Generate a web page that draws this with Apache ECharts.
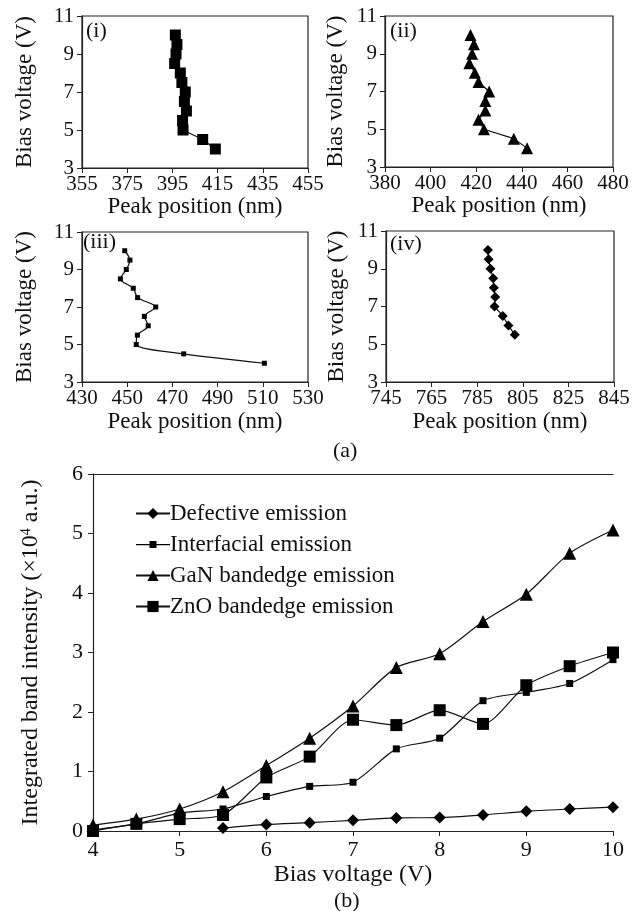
<!DOCTYPE html>
<html>
<head>
<meta charset="utf-8">
<script src="https://cdn.jsdelivr.net/npm/echarts@6/dist/echarts.min.js"></script>
<style>
  html, body { margin: 0; padding: 0; background: #fff; }
  #main { width: 642px; height: 911px; }
</style>
</head>
<body>
<div id="main"></div>
<script type="text/javascript">
// (a) peak position vs bias voltage
var bias = [10, 9.5, 9, 8.5, 8, 7.5, 7, 6.5, 6, 5.5, 5, 4.5, 4];
var peakI = [396.3, 397, 396.6, 396, 398.5, 399.2, 400.7, 400.3, 401.2, 399.5, 399.7, 408.4, 414];
var peakII = [417.5, 419, 418.2, 417, 419.4, 421, 425.7, 424, 424, 421, 423.4, 436.5, 442.3];
var peakIII = [448.9, 451.2, 449.6, 447, 452.7, 454.6, 462.6, 457.6, 459.3, 454.5, 454, 475, 510.7];
var peakIV = [789.7, 790, 790.8, 792, 792.3, 792.9, 792.6, 796.2, 798.7, 801.5, null, null, null];

// (b) integrated band intensity (x10^4 a.u.) vs bias voltage
var voltage = [4, 4.5, 5, 5.5, 6, 6.5, 7, 7.5, 8, 8.5, 9, 9.5, 10];
var defective = [null, null, null, 0.05, 0.11, 0.14, 0.18, 0.22, 0.225, 0.27, 0.33, 0.37, 0.40];
var interfacial = [0.02, 0.12, 0.3, 0.37, 0.58, 0.75, 0.82, 1.38, 1.56, 2.19, 2.33, 2.48, 2.88];
var gan = [0.1, 0.2, 0.37, 0.66, 1.1, 1.56, 2.1, 2.75, 2.98, 3.52, 3.98, 4.67, 5.06];
var zno = [0.0, 0.12, 0.2, 0.27, 0.9, 1.25, 1.87, 1.78, 2.03, 1.8, 2.45, 2.77, 3.0];

var FONT = 'Liberation Serif, Times New Roman, serif';

function pairs(xs, ys) {
    var out = [];
    for (var i = 0; i < xs.length; i++) {
        if (xs[i] != null && ys[i] != null) out.push([xs[i], ys[i]]);
    }
    return out;
}

function xAx(idx, min, max, gap) {
    return {
        type: 'value', gridIndex: idx, min: min, max: max, interval: 20,
        name: 'Peak position (nm)', nameLocation: 'middle', nameGap: gap,
        nameTextStyle: { fontFamily: FONT, fontSize: 23, color: '#111' },
        axisLine: { lineStyle: { color: '#222', width: 1.2 } },
        axisTick: { show: true, length: 5, lineStyle: { color: '#222' } },
        axisLabel: { fontFamily: FONT, fontSize: 21, color: '#111', margin: 6, showMaxLabel: true, showMinLabel: true },
        splitLine: { show: false }
    };
}
function yAx(idx, gap) {
    return {
        type: 'value', gridIndex: idx, min: 3, max: 11, interval: 2,
        name: 'Bias voltage (V)', nameLocation: 'middle', nameGap: gap,
        nameTextStyle: { fontFamily: FONT, fontSize: 23, color: '#111' },
        axisLine: { show: true, lineStyle: { color: '#222', width: 1.2 } },
        axisTick: { show: true, length: 5, lineStyle: { color: '#222' } },
        axisLabel: { fontFamily: FONT, fontSize: 21, color: '#111', margin: 8 },
        splitLine: { show: false }
    };
}
function panelSeries(idx, xs, symbol, size, smooth) {
    return {
        type: 'line', xAxisIndex: idx, yAxisIndex: idx,
        data: pairs(xs, bias), symbol: symbol, symbolSize: size, smooth: smooth,
        itemStyle: { color: '#000' }, lineStyle: { color: '#111', width: 1.2 },
        animation: false
    };
}

var boxStyle = { show: true, borderColor: '#222', borderWidth: 1.2, backgroundColor: 'transparent' };

// legend icon for the small-square series: line with a small square in the middle
var smallSquareIcon = 'path://M0,3L34,3L34,4.2L0,4.2Z M13.5,0L20.5,0L20.5,7L13.5,7Z';

var myChart = echarts.init(document.getElementById('main'), null, { renderer: 'canvas' });
myChart.setOption({
    backgroundColor: '#fff',
    animation: false,
    grid: [
        Object.assign({ left: 82, top: 16, width: 226, height: 152 }, boxStyle),
        Object.assign({ left: 385, top: 16, width: 228, height: 151 }, boxStyle),
        Object.assign({ left: 82, top: 232, width: 226, height: 150 }, boxStyle),
        Object.assign({ left: 386, top: 231, width: 228, height: 151 }, boxStyle),
        { left: 93, top: 474, width: 520, height: 357 }
    ],
    xAxis: [
        xAx(0, 355, 455, 26),
        xAx(1, 380, 480, 26),
        xAx(2, 430, 530, 28),
        xAx(3, 745, 845, 28),
        {
            type: 'value', gridIndex: 4, min: 4, max: 10, interval: 1,
            name: 'Bias voltage (V)', nameLocation: 'middle', nameGap: 32,
            nameTextStyle: { fontFamily: FONT, fontSize: 24, color: '#111' },
            axisLine: { lineStyle: { color: '#222', width: 1.2 } },
            axisTick: { show: true, length: 5, lineStyle: { color: '#222' } },
            axisLabel: { fontFamily: FONT, fontSize: 22, color: '#111', margin: 8 },
            splitLine: { show: false }
        },
        {
            type: 'value', gridIndex: 4, min: 4, max: 10, position: 'top',
            axisLine: { show: true, onZero: false, lineStyle: { color: '#222', width: 1.2 } },
            axisTick: { show: false }, axisLabel: { show: false }, splitLine: { show: false }
        }
    ],
    yAxis: [
        yAx(0, 46),
        yAx(1, 38),
        yAx(2, 46),
        yAx(3, 38),
        {
            type: 'value', gridIndex: 4, min: 0, max: 6, interval: 1,
            name: '{a|Integrated band intensity (×10}{s|4}{a| a.u.)}',
            nameLocation: 'middle', nameGap: 50,
            nameTextStyle: {
                fontFamily: FONT, color: '#111',
                rich: {
                    a: { fontFamily: FONT, fontSize: 24, color: '#111' },
                    s: { fontFamily: FONT, fontSize: 14, color: '#111', verticalAlign: 'top', padding: [0, 0, 8, 0] }
                }
            },
            axisLine: { show: true, lineStyle: { color: '#222', width: 1.2 } },
            axisTick: { show: true, length: 5, lineStyle: { color: '#222' } },
            axisLabel: { fontFamily: FONT, fontSize: 22, color: '#111', margin: 10 },
            splitLine: { show: false }
        }
    ],
    legend: {
        orient: 'vertical', left: 130, top: 497, itemGap: 8,
        itemWidth: 34, itemHeight: 14,
        textStyle: { fontFamily: FONT, fontSize: 23, color: '#111', padding: [0, 0, 0, -5] },
        data: [
            'Defective emission',
            { name: 'Interfacial emission', icon: smallSquareIcon },
            'GaN bandedge emission',
            'ZnO bandedge emission'
        ]
    },
    graphic: [
        { type: 'text', left: 86, top: 20, style: { text: '(i)', font: '22px ' + FONT, fill: '#111' } },
        { type: 'text', left: 390, top: 20, style: { text: '(ii)', font: '22px ' + FONT, fill: '#111' } },
        { type: 'text', left: 83, top: 231, style: { text: '(iii)', font: '22px ' + FONT, fill: '#111' } },
        { type: 'text', left: 390, top: 233, style: { text: '(iv)', font: '22px ' + FONT, fill: '#111' } },
        { type: 'text', left: 333, top: 440, style: { text: '(a)', font: '22px ' + FONT, fill: '#111' } },
        { type: 'text', left: 334, top: 890, style: { text: '(b)', font: '22px ' + FONT, fill: '#111' } }
    ],
    series: [
        panelSeries(0, peakI, 'rect', 11, false),
        panelSeries(1, peakII, 'triangle', 12, false),
        panelSeries(2, peakIII, 'rect', 5, 0.3),
        panelSeries(3, peakIV, 'diamond', 10, false),
        {
            name: 'Defective emission', type: 'line', xAxisIndex: 4, yAxisIndex: 4,
            data: pairs(voltage, defective), symbol: 'diamond', symbolSize: 12, smooth: 0.25,
            itemStyle: { color: '#000' }, lineStyle: { color: '#111', width: 1.2 }
        },
        {
            name: 'Interfacial emission', type: 'line', xAxisIndex: 4, yAxisIndex: 4,
            data: pairs(voltage, interfacial), symbol: 'rect', symbolSize: 7, smooth: 0.25,
            itemStyle: { color: '#000' }, lineStyle: { color: '#111', width: 1.2 }
        },
        {
            name: 'GaN bandedge emission', type: 'line', xAxisIndex: 4, yAxisIndex: 4,
            data: pairs(voltage, gan), symbol: 'triangle', symbolSize: 13, smooth: 0.25,
            itemStyle: { color: '#000' }, lineStyle: { color: '#111', width: 1.2 }
        },
        {
            name: 'ZnO bandedge emission', type: 'line', xAxisIndex: 4, yAxisIndex: 4,
            data: pairs(voltage, zno), symbol: 'rect', symbolSize: 12, smooth: 0.25,
            itemStyle: { color: '#000' }, lineStyle: { color: '#111', width: 1.2 }
        }
    ]
});
</script>
</body>
</html>
